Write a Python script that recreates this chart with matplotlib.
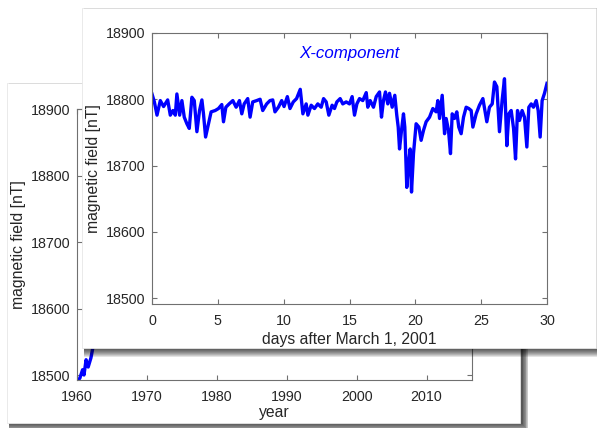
import matplotlib.pyplot as plt
from matplotlib.patches import Rectangle

plt.rcParams['font.family'] = ['Liberation Sans', 'DejaVu Sans']

# front panel: X-component, March 2001 (days after March 1)
days = [0.00, 0.18, 0.38, 0.63, 0.88, 1.19, 1.39, 1.59, 1.77, 1.89, 2.10, 2.27, 2.45, 2.65,
        2.83, 3.03, 3.21, 3.41, 3.61, 3.79, 3.91, 4.07, 4.29, 4.49, 4.80, 5.05, 5.30, 5.43,
        5.61, 5.86, 6.14, 6.39, 6.64, 6.82, 7.00, 7.27, 7.45, 7.65, 7.95, 8.21, 8.41, 8.71,
        8.96, 9.17, 9.34, 9.60, 9.85, 10.03, 10.28, 10.48, 10.73, 10.98, 11.26, 11.46, 11.71,
        11.84, 12.09, 12.34, 12.59, 12.85, 13.03, 13.23, 13.43, 13.68, 13.86, 14.04, 14.29,
        14.49, 14.75, 15.00, 15.20, 15.38, 15.56, 15.76, 16.01, 16.27, 16.39, 16.57, 16.82,
        17.03, 17.28, 17.43, 17.58, 17.73, 17.91, 18.04, 18.24, 18.44, 18.59, 18.70, 18.80,
        18.95, 19.10, 19.20, 19.35, 19.51, 19.61, 19.71, 19.86, 20.06, 20.27, 20.44, 20.62,
        20.82, 21.08, 21.33, 21.58, 21.71, 21.84, 22.04, 22.22, 22.34, 22.52, 22.67, 22.80,
        22.97, 23.15, 23.30, 23.48, 23.66, 23.86, 24.06, 24.24, 24.37, 24.62, 24.87, 25.13,
        25.28, 25.43, 25.63, 25.84, 26.01, 26.19, 26.39, 26.59, 26.77, 26.95, 27.10, 27.28,
        27.46, 27.61, 27.76, 27.91, 28.11, 28.29, 28.47, 28.62, 28.80, 28.97, 29.18, 29.33,
        29.48, 29.63, 29.81, 30.00]
x_comp = [18808, 18796, 18776, 18798, 18789, 18799, 18776, 18783, 18776, 18808, 18776, 18798,
          18773, 18763, 18756, 18803, 18798, 18751, 18783, 18799, 18778, 18743, 18763, 18781,
          18783, 18786, 18792, 18766, 18788, 18793, 18798, 18788, 18798, 18778, 18793, 18801,
          18773, 18796, 18798, 18800, 18783, 18793, 18798, 18799, 18781, 18788, 18798, 18789,
          18804, 18786, 18796, 18801, 18815, 18778, 18793, 18776, 18791, 18786, 18793, 18788,
          18801, 18796, 18776, 18791, 18786, 18796, 18801, 18793, 18796, 18793, 18804, 18776,
          18793, 18801, 18798, 18810, 18788, 18798, 18788, 18804, 18811, 18773, 18798, 18811,
          18793, 18809, 18788, 18806, 18776, 18758, 18725, 18753, 18778, 18758, 18667, 18708,
          18725, 18660, 18718, 18763, 18758, 18738, 18753, 18766, 18773, 18786, 18781, 18798,
          18771, 18806, 18748, 18771, 18753, 18718, 18778, 18771, 18781, 18758, 18748, 18773,
          18788, 18786, 18783, 18758, 18778, 18791, 18801, 18783, 18766, 18788, 18793, 18826,
          18819, 18751, 18798, 18831, 18730, 18778, 18783, 18756, 18710, 18783, 18768, 18783,
          18773, 18728, 18788, 18793, 18788, 18798, 18783, 18743, 18798, 18809, 18824]

# back panel: long-term X-component (only the start is visible)
years = [1960.0, 1960.4, 1960.8, 1961.0, 1961.3, 1961.6, 1962.0, 1962.6, 1965, 1970, 1975,
         1980, 1985, 1990, 1995, 2000, 2005, 2010, 2015]
x_long = [18492, 18495, 18508, 18500, 18523, 18512, 18526, 18560, 18590, 18640, 18700,
          18740, 18760, 18780, 18790, 18800, 18820, 18850, 18880]

W, H = 597, 428
fig = plt.figure(figsize=(W / 100, H / 100), dpi=100)


def box(x0, y0, x1, y1):
    return [x0 / W, 1 - y1 / H, (x1 - x0) / W, (y1 - y0) / H]


def panel(x0, y0, x1, y1, z):
    # soft drop shadow, then the white sheet
    for i in range(9):
        s = 9 - i
        fig.patches.append(Rectangle(((x0 + 2) / W, 1 - (y1 + s) / H),
                                     (x1 - x0 + s * 0.7) / W, (y1 - y0 + s) / H,
                                     transform=fig.transFigure, facecolor='k',
                                     alpha=0.11, edgecolor='none', zorder=z))
    fig.patches.append(Rectangle((x0 / W, 1 - y1 / H), (x1 - x0) / W, (y1 - y0) / H,
                                 transform=fig.transFigure, facecolor='white',
                                 edgecolor='#e6e6e6', lw=0.6, zorder=z + 0.5))


def style(ax):
    for s in ax.spines.values():
        s.set_color('#707070')
        s.set_linewidth(0.8)
    ax.tick_params(direction='in', length=3.5, width=0.8, color='#707070',
                   labelcolor='#262626', labelsize=10.3, top=True, right=True, pad=5)
    ax.tick_params(axis='x', pad=7)


# back figure
panel(7, 83, 520, 423, 1)
ax1 = fig.add_axes(box(77, 109, 472, 380))
ax1.set_zorder(2)
ax1.plot(years, x_long, color='#0000ff', lw=2.4)
ax1.set_xlim(1960, 2016.5)
ax1.set_ylim(18492.5, 18900)
ax1.set_xticks([1960, 1970, 1980, 1990, 2000, 2010])
ax1.set_yticks([18500, 18600, 18700, 18800, 18900])
style(ax1)
ax1.set_xlabel('year', fontsize=11.3, color='#262626', labelpad=1)
ax1.set_ylabel('magnetic field [nT]', fontsize=11.3, color='#262626', labelpad=3)

# front figure
panel(82, 8, 596, 348, 3)
ax2 = fig.add_axes(box(152, 33, 547, 304))
ax2.set_zorder(4)
ax2.plot(days, x_comp, color='#0000ff', lw=2.4)
ax2.set_xlim(0, 30)
ax2.set_ylim(18491, 18900)
ax2.set_xticks([0, 5, 10, 15, 20, 25, 30])
ax2.set_yticks([18500, 18600, 18700, 18800, 18900])
style(ax2)
ax2.set_xlabel('days after March 1, 2001', fontsize=11.3, color='#262626', labelpad=3)
ax2.set_ylabel('magnetic field [nT]', fontsize=11.3, color='#262626', labelpad=3)
ax2.text(0.5, 0.926, 'X-component', transform=ax2.transAxes, ha='center', va='center',
         color='#0000ff', fontsize=12.2, fontstyle='italic')

fig.savefig('out.png', dpi=100, facecolor='white')
